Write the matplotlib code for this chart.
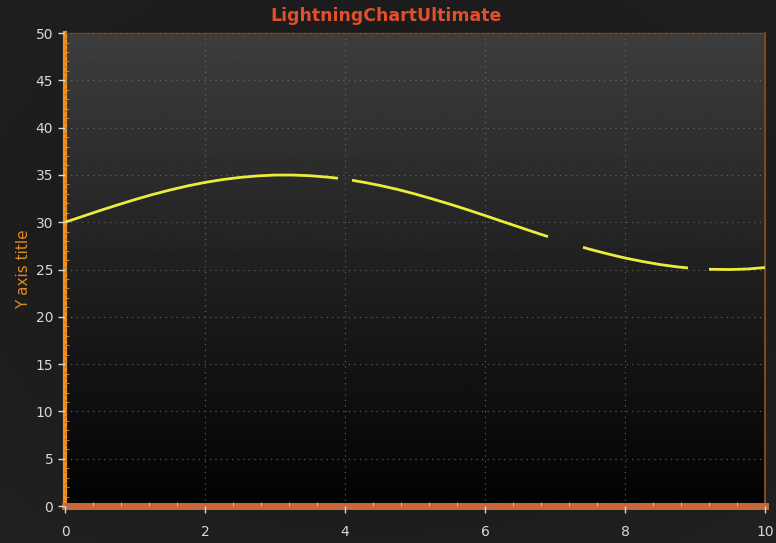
import numpy as np
import matplotlib.pyplot as plt
from matplotlib.ticker import MultipleLocator

# data (NaN = gap in the line)
x_vals = [0, 0.25, 0.5, 0.75, 1.0, 1.25, 1.5, 1.75, 2.0, 2.25, 2.5, 2.75,
          3.0, 3.25, 3.5, 3.75, 3.9, np.nan,
          4.1, 4.25, 4.5, 4.75, 5.0, 5.25, 5.5, 5.75, 6.0, 6.25, 6.5, 6.75, 6.9, np.nan,
          7.4, 7.5, 7.75, 8.0, 8.25, 8.5, 8.75, 8.9, np.nan,
          9.2, 9.5, 9.75, 10.0]
y_vals = [30.0, 30.62, 31.24, 31.83, 32.40, 32.93, 33.41, 33.84, 34.21, 34.51, 34.74, 34.90,
          34.99, 34.99, 34.92, 34.77, 34.65, np.nan,
          34.44, 34.25, 33.89, 33.47, 32.99, 32.46, 31.91, 31.32, 30.71, 30.08, 29.46, 28.84, 28.48, np.nan,
          27.35, 27.14, 26.66, 26.22, 25.85, 25.53, 25.28, 25.17, np.nan,
          25.03, 25.00, 25.06, 25.21]
x_ticks = [0, 2, 4, 6, 8, 10]
y_ticks = [0, 5, 10, 15, 20, 25, 30, 35, 40, 45, 50]

fig = plt.figure(figsize=(7.76, 5.43), dpi=100)

# figure background: dark gradient
bg = fig.add_axes([0, 0, 1, 1], zorder=-10)
yy, xx = np.mgrid[0:1:200j, 0:1:200j]
g = 0.085 + 0.06 * np.sqrt((xx - 0.5) ** 2 + (yy - 0.45) ** 2)
bg.imshow(g, cmap='gray', vmin=0, vmax=1, aspect='auto', extent=[0, 1, 0, 1])
bg.axis('off')

ax = fig.add_axes([0.0838, 0.0681, 0.902, 0.871])
ax.set_xlim(0, 10)
ax.set_ylim(0, 50)

# plot area vertical gradient
grad = np.linspace(0.24, 0.01, 256).reshape(-1, 1)
ax.imshow(grad, cmap='gray', vmin=0, vmax=1, aspect='auto',
          extent=[0, 10, 0, 50], zorder=0)

ax.plot(x_vals, y_vals, color='#ecec3a', lw=2, zorder=3, solid_capstyle='butt')

ax.set_xticks(x_ticks)
ax.set_yticks(y_ticks)
ax.xaxis.set_minor_locator(MultipleLocator(0.4))
ax.yaxis.set_minor_locator(MultipleLocator(1))
ax.grid(True, which='major', color='#6a6a6a', linestyle=(0, (1, 4)), lw=0.8)
ax.set_axisbelow(False)

ax.tick_params(axis='both', which='major', colors='#d8d8d8', labelsize=10,
               length=5, width=1)
ax.tick_params(axis='x', which='major', pad=9)
ax.tick_params(axis='y', which='minor', colors='#e08a1e', length=3, direction='in')
ax.tick_params(axis='x', which='minor', colors='#c8c8c8', length=3, direction='in')

ax.spines['left'].set_color('#f09020')
ax.spines['left'].set_linewidth(3)
ax.spines['bottom'].set_color('#c8683a')
ax.spines['bottom'].set_linewidth(5)
ax.spines['top'].set_color('#6a4020')
ax.spines['top'].set_linewidth(1)
ax.spines['right'].set_color('#7a4a20')
ax.spines['right'].set_linewidth(1.5)

ax.set_ylabel('Y axis title', color='#e08a1e', fontsize=11, labelpad=3)
fig.text(0.497, 0.971, 'LightningChartUltimate', color='#e0502a',
         fontsize=12.5, fontweight='bold', ha='center', va='center')

fig.savefig('out.png', dpi=100)
